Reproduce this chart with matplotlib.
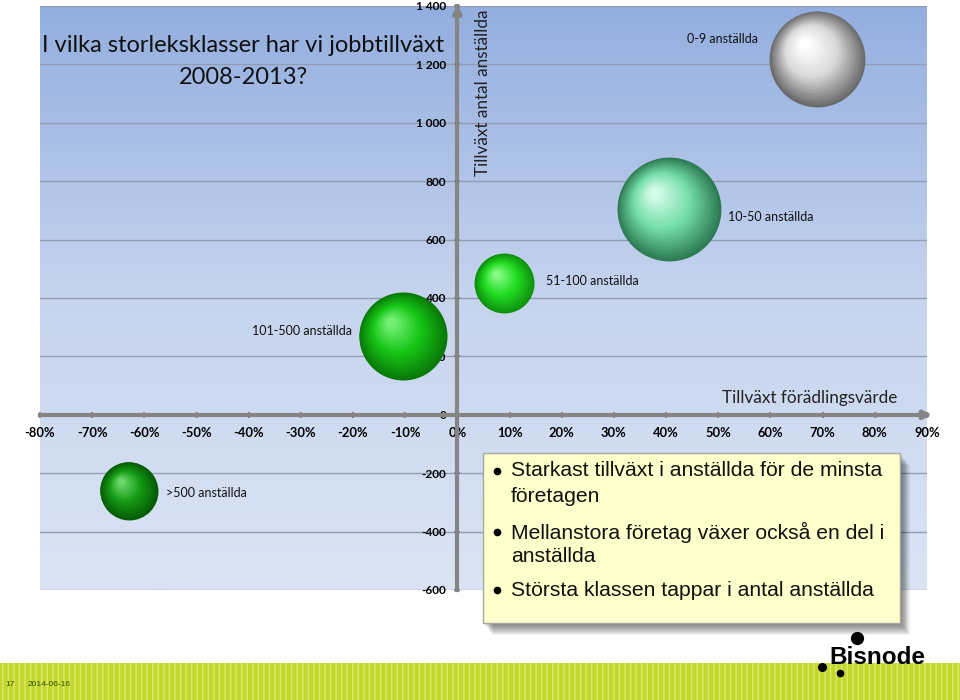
import numpy as np
import matplotlib
matplotlib.use('Agg')
import matplotlib.pyplot as plt
import matplotlib.colors as mcolors
from matplotlib.transforms import ScaledTranslation
from matplotlib.patches import Rectangle
from matplotlib.lines import Line2D

# ---------------- data ----------------
classes = ['0-9 anställda', '10-50 anställda', '51-100 anställda',
           '101-500 anställda', '>500 anställda']
growth_value_added = [69, 40.5, 9, -10.5, -63]      # %
growth_employees = [1220, 705, 450, 270, -260]
bubble_size = [2300, 2700, 900, 1940, 840]

x_ticks = list(range(-80, 91, 10))
y_ticks = list(range(-600, 1401, 200))

title_lines = ['I vilka storleksklasser har vi jobbtillväxt', '2008-2013?']
y_title = 'Tillväxt antal anställda'
x_title = 'Tillväxt förädlingsvärde'
bullets = [['Starkast tillväxt i anställda för de minsta', 'företagen'],
           ['Mellanstora företag växer också en del i', 'anställda'],
           ['Största klassen tappar i antal anställda']]
footer_page = '17'
footer_date = '2014-06-16'

# ---------------- styles ----------------
W, H = 960, 700
AXIS_GRAY = '#858585'
FONT = 'Lato'
# (dark edge, mid, highlight) per bubble
sphere_cols = [('#6a6a6a', '#dadada', '#ffffff'),
               ('#2c7a52', '#74dea8', '#d2fbe8'),
               ('#0d8f0d', '#22dd22', '#86fb86'),
               ('#087808', '#16c616', '#74f074'),
               ('#065a06', '#139a13', '#6ad86a')]
# label offsets from bubble centre, pixels
label_off = [(-95, 20), (102, -8), (88, 2), (-101, 5), (78, -2)]


def fx(x):
    return x / W


def fy(y):
    return 1 - y / H


def lerp(c1, c2, t):
    a = np.array(mcolors.to_rgb(c1))
    b = np.array(mcolors.to_rgb(c2))
    return tuple(a + (b - a) * t)


def sphere(ax, x, y, s, cols, n=40):
    dark, mid, light = cols
    r = np.sqrt(s) / 2  # radius in points
    for i in range(n):
        t = i / (n - 1)
        if t < 0.5:
            c = lerp(dark, mid, t / 0.5)
        else:
            c = lerp(mid, light, (t - 0.5) / 0.5)
        rf = 1 - 0.9 * t
        dx, dy = -0.28 * r * t, 0.32 * r * t
        tr = ax.transData + ScaledTranslation(dx / 72, dy / 72, fig.dpi_scale_trans)
        ax.scatter([x], [y], s=s * rf ** 2, color=c, linewidths=0,
                   transform=tr, zorder=5 + i * 0.01)


fig = plt.figure(figsize=(W / 100, H / 100), dpi=100)
ax = fig.add_axes([fx(40), 110 / H, 887 / W, 584 / H])

# background gradient
grad = np.linspace(0, 1, 256)[:, None]
cmap = mcolors.LinearSegmentedColormap.from_list('bg', ['#dbe4f4', '#c6d4ee', '#93aedf'])
ax.imshow(grad, extent=[-80, 90, -600, 1400], origin='lower', aspect='auto',
          cmap=cmap, zorder=0)
ax.set_xlim(-80, 90)
ax.set_ylim(-600, 1400)

# axes crossing at zero
for side in ['top', 'right']:
    ax.spines[side].set_visible(False)
for side in ['left', 'bottom']:
    ax.spines[side].set_position('zero')
    ax.spines[side].set_color(AXIS_GRAY)
    ax.spines[side].set_linewidth(3)
    ax.spines[side].set_zorder(3)

ax.set_xticks(x_ticks)
ax.set_xticklabels([f'{v}%' for v in x_ticks])
ax.set_yticks(y_ticks)
ax.set_yticklabels([f'{v:,}'.replace(',', ' ') for v in y_ticks])
ax.tick_params(axis='both', direction='inout', length=4, width=1.5, color=AXIS_GRAY)
ax.tick_params(axis='x', pad=7)
ax.tick_params(axis='y', pad=6)
for lab in ax.get_xticklabels():
    lab.set_fontfamily(FONT)
    lab.set_fontweight('bold')
    lab.set_fontsize(9.3)
for lab in ax.get_yticklabels():
    lab.set_fontfamily(FONT)
    lab.set_fontweight('bold')
    lab.set_fontsize(8.6)
ax.yaxis.grid(True, color='#929db2', lw=1, zorder=1)
ax.set_axisbelow(True)

# arrow heads
ax.annotate('', xy=(0, 1415), xytext=(0, 1380), annotation_clip=False,
            arrowprops=dict(arrowstyle='-|>', color=AXIS_GRAY, lw=3, mutation_scale=12))
ax.annotate('', xy=(91.5, 0), xytext=(88, 0), annotation_clip=False,
            arrowprops=dict(arrowstyle='-|>', color=AXIS_GRAY, lw=3, mutation_scale=12))

# bubbles
for i, name in enumerate(classes):
    sphere(ax, growth_value_added[i], growth_employees[i], bubble_size[i] * 2.07, sphere_cols[i])
    ax.annotate(name, (growth_value_added[i], growth_employees[i]), xytext=label_off[i],
                textcoords='offset pixels', ha='center', va='center',
                fontsize=9, family=FONT, color='#111111', zorder=10)

# axis titles
fig.text(fx(483), fy(10), y_title, rotation=90, ha='center', va='top',
         fontsize=12.3, family=FONT, color='#222222')
fig.text(fx(897), fy(398), x_title, ha='right', va='center',
         fontsize=12.3, family=FONT, color='#222222')

# title (two separate lines)
fig.text(fx(243), fy(45), title_lines[0], ha='center', va='center', fontsize=17,
         family=FONT, color='#111111')
fig.text(fx(243), fy(77), title_lines[1], ha='center', va='center', fontsize=17,
         family=FONT, color='#111111')

# text box with shadow
bx0, by0, bx1, by1 = 483, 453, 900, 623
for k in range(1, 13):
    fig.patches.append(Rectangle((fx(bx0 + k * 0.8), fy(by1 + k * 1.0)), (bx1 - bx0) / W,
                                 (by1 - by0) / H, transform=fig.transFigure,
                                 facecolor='black', alpha=0.05, lw=0, zorder=20))
fig.patches.append(Rectangle((fx(bx0), fy(by1)), (bx1 - bx0) / W, (by1 - by0) / H,
                             transform=fig.transFigure, facecolor='#ffffcc',
                             edgecolor='#a8a8a0', lw=1, zorder=21))
line_y = [[471, 497], [532, 557], [590]]
for lines, ys in zip(bullets, line_y):
    fig.add_artist(Line2D([fx(497)], [fy(ys[0])], marker='o', markersize=4.5,
                          color='black', transform=fig.transFigure, zorder=22))
    for txt, yy in zip(lines, ys):
        fig.text(fx(511), fy(yy), txt, ha='left', va='center', fontsize=15.2,
                 family='Liberation Sans', color='#111111', zorder=22)

# footer strip
fig.patches.append(Rectangle((0, 0), 1, 37 / H, transform=fig.transFigure,
                             facecolor='#c4d82c', edgecolor='#dce96e', hatch='|||',
                             lw=0, zorder=1))
fig.text(fx(5), fy(684), footer_page, fontsize=6, color='#2f4f00', va='center',
         family='Liberation Sans')
fig.text(fx(28), fy(684), footer_date, fontsize=6, color='#2f4f00', va='center',
         family='Liberation Sans')

# logo
fig.text(fx(829), fy(664), 'Bisnode', fontsize=17.5, fontweight='bold', va='baseline',
         family='Liberation Sans', color='black')
for (lx, ly, ms) in [(857, 638, 8.5), (822, 667, 5.5), (840, 673, 4.5)]:
    fig.add_artist(Line2D([fx(lx)], [fy(ly)], marker='o', markersize=ms, color='black',
                          transform=fig.transFigure))

fig.savefig('out.png', dpi=100)
